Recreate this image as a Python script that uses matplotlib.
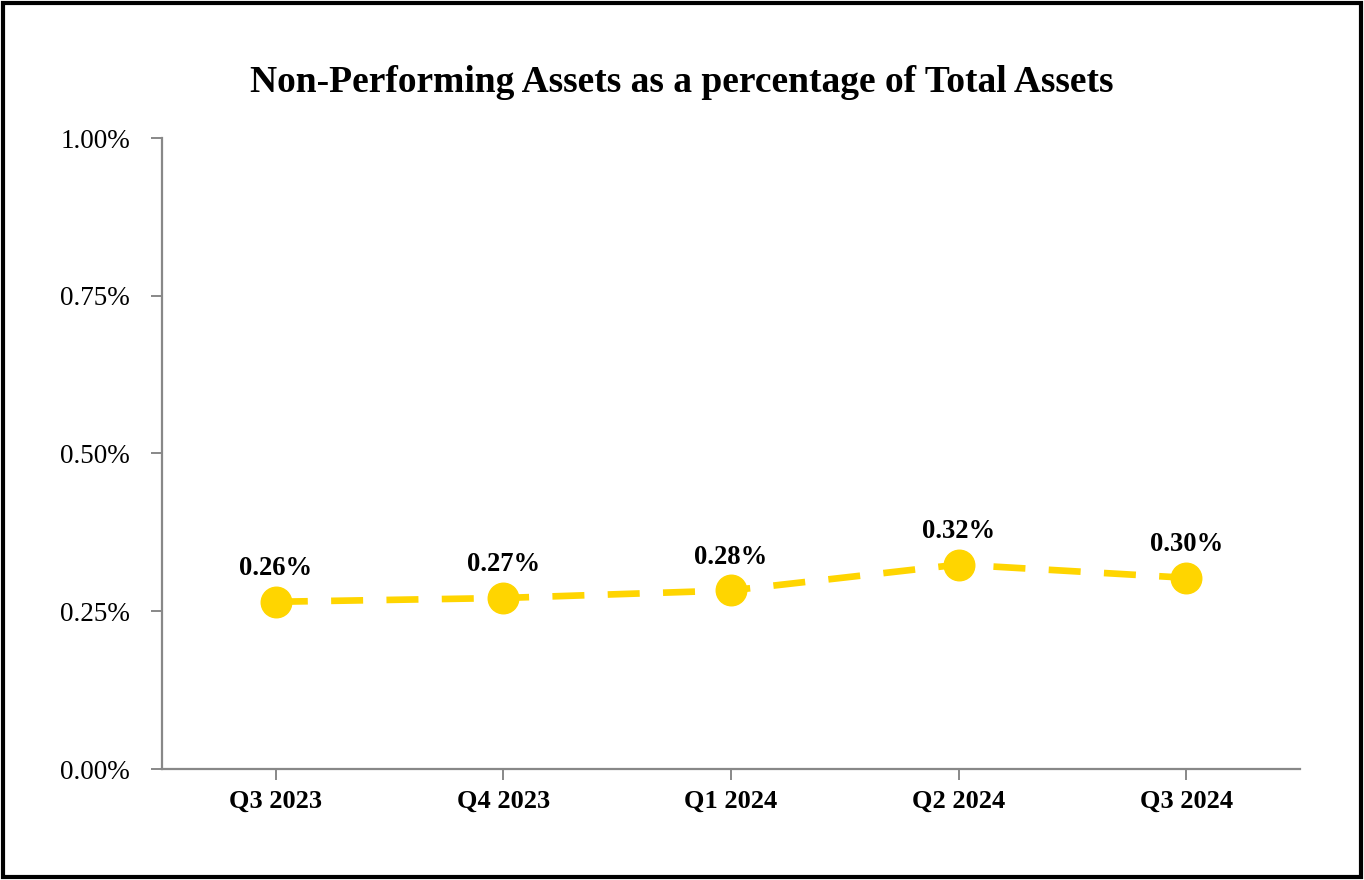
import matplotlib.pyplot as plt
from matplotlib.patches import Rectangle

quarters = ["Q3 2023", "Q4 2023", "Q1 2024", "Q2 2024", "Q3 2024"]
npa_pct = [0.265, 0.271, 0.283, 0.324, 0.303]
npa_labels = ["0.26%", "0.27%", "0.28%", "0.32%", "0.30%"]
y_ticks = [0.0, 0.25, 0.5, 0.75, 1.0]

plt.rcParams['font.family'] = ['Liberation Serif', 'DejaVu Serif']

fig = plt.figure(figsize=(13.64, 8.8), dpi=100)
ax = fig.add_axes([162 / 1364, 1 - 769 / 880, (1300 - 162) / 1364, (769 - 138) / 880])

x = list(range(len(quarters)))
ax.plot(x, npa_pct, color="#FFD500", lw=4.8, dashes=(4.8, 3.5),
        marker="o", markersize=22, zorder=3)
for xi, v, lab in zip(x, npa_pct, npa_labels):
    ax.annotate(lab, (xi, v), xytext=(0, 15), textcoords="offset points",
                ha="center", va="bottom", fontsize=19.2, fontweight="bold")

ax.set_xlim(-0.5, len(quarters) - 0.5)
ax.set_ylim(0, 1.0)
ax.set_xticks(x)
ax.set_xticklabels(quarters, fontsize=19, fontweight="bold")
ax.set_yticks(y_ticks)
ax.set_yticklabels([f"{t:.2f}%" for t in y_ticks], fontsize=19.5)
for side in ["top", "right"]:
    ax.spines[side].set_visible(False)
for side in ["left", "bottom"]:
    ax.spines[side].set_color("#888888")
    ax.spines[side].set_linewidth(1.6)
ax.tick_params(axis="both", color="#888888", width=1.4, length=8, direction="out")
ax.tick_params(axis="x", pad=7)
ax.tick_params(axis="y", pad=15)

fig.text(0.5, 1 - 82 / 880, "Non-Performing Assets as a percentage of Total Assets",
         ha="center", va="center", fontsize=27, fontweight="bold")

fig.patches.append(Rectangle((0.002, 0.003), 0.996, 0.994, transform=fig.transFigure,
                             fill=False, edgecolor="black", linewidth=3))

fig.savefig("out.png", dpi=100)
